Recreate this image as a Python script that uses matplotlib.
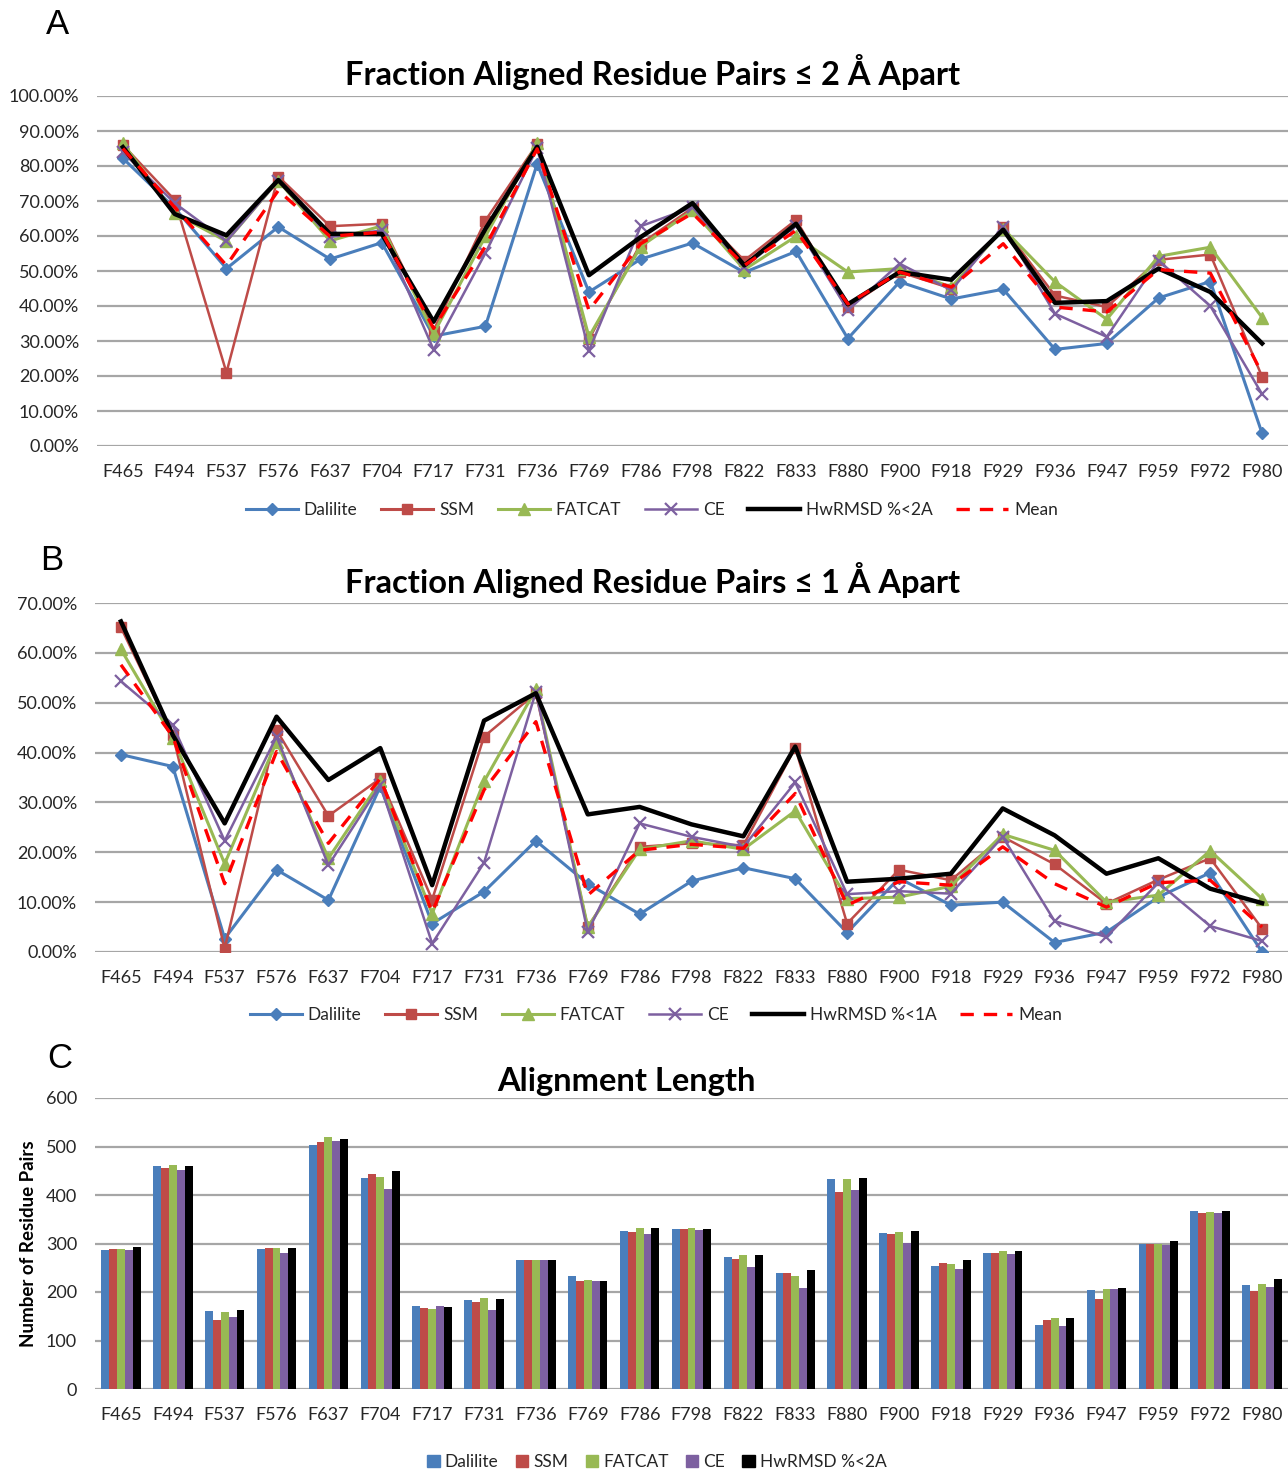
import matplotlib
matplotlib.use("Agg")
import matplotlib.pyplot as plt
from matplotlib.lines import Line2D
from matplotlib.patches import Patch
import numpy as np

plt.rcParams['font.family'] = ['Lato', 'DejaVu Sans']

categories = ["F465", "F494", "F537", "F576", "F637", "F704", "F717", "F731", "F736", "F769",
              "F786", "F798", "F822", "F833", "F880", "F900", "F918", "F929", "F936", "F947",
              "F959", "F972", "F980"]

# Panel A: fraction of aligned residue pairs <= 2 A apart (percent)
a_dalilite = [82.2, 68.0, 50.7, 62.6, 53.4, 58.1, 31.4, 34.2, 80.6, 44.0, 53.4, 58.0, 49.6,
              55.6, 30.7, 46.9, 42.0, 44.8, 27.6, 29.3, 42.3, 47.0, 3.6]
a_ssm = [86.0, 70.3, 21.0, 77.0, 62.8, 63.5, 33.0, 64.4, 86.3, 30.5, 57.8, 68.0, 53.0,
         64.6, 39.7, 49.7, 45.0, 62.5, 43.0, 39.7, 53.2, 54.7, 19.8]
a_fatcat = [86.5, 66.5, 58.5, 75.8, 58.6, 62.9, 32.1, 59.9, 86.5, 31.2, 57.0, 67.3, 50.4,
            59.9, 49.7, 50.7, 45.4, 62.1, 46.9, 36.2, 54.2, 56.8, 36.7]
a_ce = [83.9, 69.4, 58.5, 75.8, 59.7, 61.6, 27.5, 55.1, 85.1, 27.2, 62.8, 68.2, 51.1,
        63.0, 38.8, 52.1, 44.5, 62.7, 37.8, 31.2, 53.0, 40.0, 14.8]
a_hwrmsd = [85.4, 66.3, 60.2, 76.0, 60.6, 60.6, 35.5, 62.0, 85.5, 48.8, 59.7, 69.4, 51.6,
            63.5, 40.5, 49.7, 47.5, 61.8, 40.9, 41.4, 50.7, 44.0, 29.3]
a_mean = [85.0, 68.2, 51.6, 73.0, 59.9, 61.1, 33.6, 57.0, 84.9, 38.8, 57.8, 66.5, 51.6,
          61.6, 40.6, 49.7, 45.4, 57.8, 39.7, 38.3, 50.4, 49.4, 20.7]

# Panel B: fraction of aligned residue pairs <= 1 A apart (percent)
b_dalilite = [39.6, 37.2, 2.7, 16.5, 10.4, 33.2, 5.7, 12.1, 22.3, 13.7, 7.6, 14.2, 16.9,
              14.7, 3.9, 14.8, 9.4, 10.0, 1.9, 4.0, 11.0, 15.9, 0.0]
b_ssm = [65.1, 43.5, 0.7, 44.5, 27.3, 34.8, 10.5, 43.2, 51.9, 5.0, 21.1, 21.8, 21.4,
         41.0, 5.7, 16.5, 14.4, 23.1, 17.6, 9.7, 14.5, 18.8, 4.7]
b_fatcat = [60.7, 43.0, 17.7, 42.2, 18.8, 34.2, 7.7, 34.2, 52.7, 5.0, 20.6, 22.3, 20.6,
            28.3, 10.7, 11.0, 13.2, 23.6, 20.4, 10.0, 11.4, 20.3, 10.7]
b_ce = [54.3, 45.5, 22.3, 43.2, 17.4, 33.5, 1.7, 17.9, 52.2, 4.0, 25.8, 23.1, 21.1,
        34.0, 11.6, 12.2, 11.7, 23.1, 6.2, 3.0, 13.9, 5.2, 2.2]
b_hwrmsd = [66.3, 43.5, 25.8, 47.2, 34.5, 40.9, 13.4, 46.4, 51.9, 27.6, 29.1, 25.6, 23.2,
            41.2, 14.1, 14.7, 15.7, 28.8, 23.4, 15.7, 18.8, 12.7, 9.8]
b_mean = [57.6, 43.2, 13.7, 40.2, 21.8, 34.8, 8.0, 32.5, 46.2, 11.4, 20.4, 21.6, 20.8,
          31.8, 9.4, 14.1, 13.4, 21.1, 13.7, 9.0, 13.9, 14.4, 5.0]

# Panel C: alignment length (number of residue pairs)
c_dalilite = [287, 459, 160, 289, 504, 436, 172, 183, 266, 233, 326, 330, 272, 240, 432,
              321, 253, 280, 131, 204, 300, 367, 215]
c_ssm = [288, 456, 142, 290, 509, 444, 167, 180, 266, 222, 323, 330, 268, 240, 407,
         320, 259, 281, 142, 186, 299, 363, 203]
c_fatcat = [288, 462, 158, 290, 519, 438, 165, 188, 267, 224, 332, 331, 276, 233, 432,
            324, 257, 284, 147, 207, 299, 364, 217]
c_ce = [286, 452, 148, 280, 511, 413, 171, 162, 267, 222, 319, 328, 252, 209, 410,
        302, 248, 279, 130, 206, 296, 363, 211]
c_hwrmsd = [293, 460, 162, 290, 516, 449, 169, 185, 267, 223, 331, 330, 276, 245, 435,
            325, 266, 285, 147, 209, 306, 368, 226]

BLUE = "#4A7EBB"
RED = "#BE4B48"
GREEN = "#98B954"
PURPLE = "#7D60A0"
GRID = "#A6A6A6"
TXT = "#262626"

W, H = 1288, 1472
fig = plt.figure(figsize=(W / 100, H / 100), dpi=100)


def ax_rect(left, right, top, bottom):
    return [left / W, 1 - bottom / H, (right - left) / W, (bottom - top) / H]


def style_axes(ax, n):
    for s in ax.spines.values():
        s.set_visible(False)
    ax.set_xlim(-0.5, n - 0.5)
    ax.yaxis.grid(True, color=GRID, lw=1.6)
    ax.set_axisbelow(True)
    ax.tick_params(axis='both', length=0, labelsize=13, colors=TXT)
    ax.tick_params(axis='x', pad=13)
    ax.tick_params(axis='y', pad=13)
    ax.set_xticks(range(n))
    ax.set_xticklabels(categories)


def line_panel(ax, series, ymax, step):
    x = np.arange(len(categories))
    d, s, f, c, h, m = series
    ax.plot(x, d, color=BLUE, lw=2.2, marker='D', ms=6.5, mec=BLUE, mfc=BLUE)
    ax.plot(x, s, color=RED, lw=1.8, marker='s', ms=7.5, mec=RED, mfc=RED)
    ax.plot(x, f, color=GREEN, lw=2.2, marker='^', ms=8, mec=GREEN, mfc=GREEN)
    ax.plot(x, c, color=PURPLE, lw=1.8, marker='x', ms=8, mew=1.6, mec=PURPLE)
    ax.plot(x, h, color='black', lw=3.2)
    ax.plot(x, m, color='#FF0000', lw=2.4, ls=(0, (4, 3)))
    ax.set_ylim(0, ymax)
    ticks = np.arange(0, ymax + 0.01, step)
    ax.set_yticks(ticks)
    ax.set_yticklabels([f"{t:.2f}%" for t in ticks])
    style_axes(ax, len(categories))


def line_legend(y, hw_label, cx):
    handles = [
        Line2D([], [], color=BLUE, lw=2.2, marker='D', ms=6.5),
        Line2D([], [], color=RED, lw=2.2, marker='s', ms=7.5),
        Line2D([], [], color=GREEN, lw=2.2, marker='^', ms=8),
        Line2D([], [], color=PURPLE, lw=1.8, marker='x', ms=8, mew=1.6),
        Line2D([], [], color='black', lw=3.2),
        Line2D([], [], color='#FF0000', lw=2.4, ls=(0, (4, 3))),
    ]
    labels = ["Dalilite", "SSM", "FATCAT", "CE", hw_label, "Mean"]
    fig.legend(handles, labels, loc='center', bbox_to_anchor=(cx / W, 1 - y / H),
               ncol=6, frameon=False, fontsize=12.5, handlelength=3.0,
               handletextpad=0.35, columnspacing=1.35, labelcolor=TXT)


TITLE_FS = 23.5

# ---- Panel A ----
axA = fig.add_axes(ax_rect(97, 1288, 96, 446))
line_panel(axA, [a_dalilite, a_ssm, a_fatcat, a_ce, a_hwrmsd, a_mean], 100, 10)
fig.text(653 / W, 1 - 72 / H, "Fraction Aligned Residue Pairs ≤ 2 Å Apart",
         ha='center', va='center', fontsize=TITLE_FS, fontweight='bold')
fig.text(57 / W, 1 - 25 / H, "A", ha='center', va='center', fontsize=25,
         family=['Liberation Sans', 'DejaVu Sans'])
line_legend(510, "HwRMSD %<2A", 652)

# ---- Panel B ----
axB = fig.add_axes(ax_rect(95, 1288, 603, 952))
line_panel(axB, [b_dalilite, b_ssm, b_fatcat, b_ce, b_hwrmsd, b_mean], 70, 10)
fig.text(653 / W, 1 - 580 / H, "Fraction Aligned Residue Pairs ≤ 1 Å Apart",
         ha='center', va='center', fontsize=TITLE_FS, fontweight='bold')
fig.text(52 / W, 1 - 561 / H, "B", ha='center', va='center', fontsize=25,
         family=['Liberation Sans', 'DejaVu Sans'])
line_legend(1015, "HwRMSD %<1A", 656)

# ---- Panel C ----
axC = fig.add_axes(ax_rect(95, 1288, 1098, 1389))
x = np.arange(len(categories))
bw = 0.152
bar_series = [(c_dalilite, BLUE), (c_ssm, RED), (c_fatcat, GREEN), (c_ce, PURPLE), (c_hwrmsd, 'black')]
for i, (vals, col) in enumerate(bar_series):
    axC.bar(x + (i - 2) * bw, vals, width=bw, color=col, linewidth=0)
axC.set_ylim(0, 600)
axC.set_yticks(range(0, 601, 100))
style_axes(axC, len(categories))
axC.set_ylabel("Number of Residue Pairs", fontsize=13.5, fontweight='bold', labelpad=6)
fig.text(626 / W, 1 - 1082 / H, "Alignment Length", ha='center', va='center',
         fontsize=TITLE_FS, fontweight='bold')
fig.text(60 / W, 1 - 1058 / H, "C", ha='center', va='center', fontsize=25,
         family=['Liberation Sans', 'DejaVu Sans'])
bar_handles = [Patch(color=col) for _, col in bar_series]
fig.legend(bar_handles, ["Dalilite", "SSM", "FATCAT", "CE", "HwRMSD %<2A"],
           loc='center', bbox_to_anchor=(657 / W, 1 - 1462 / H), ncol=5, frameon=False,
           fontsize=12.5, handlelength=0.7, handleheight=0.7, handletextpad=0.3,
           columnspacing=1.0, labelcolor=TXT)

fig.savefig("out.png", dpi=100)
